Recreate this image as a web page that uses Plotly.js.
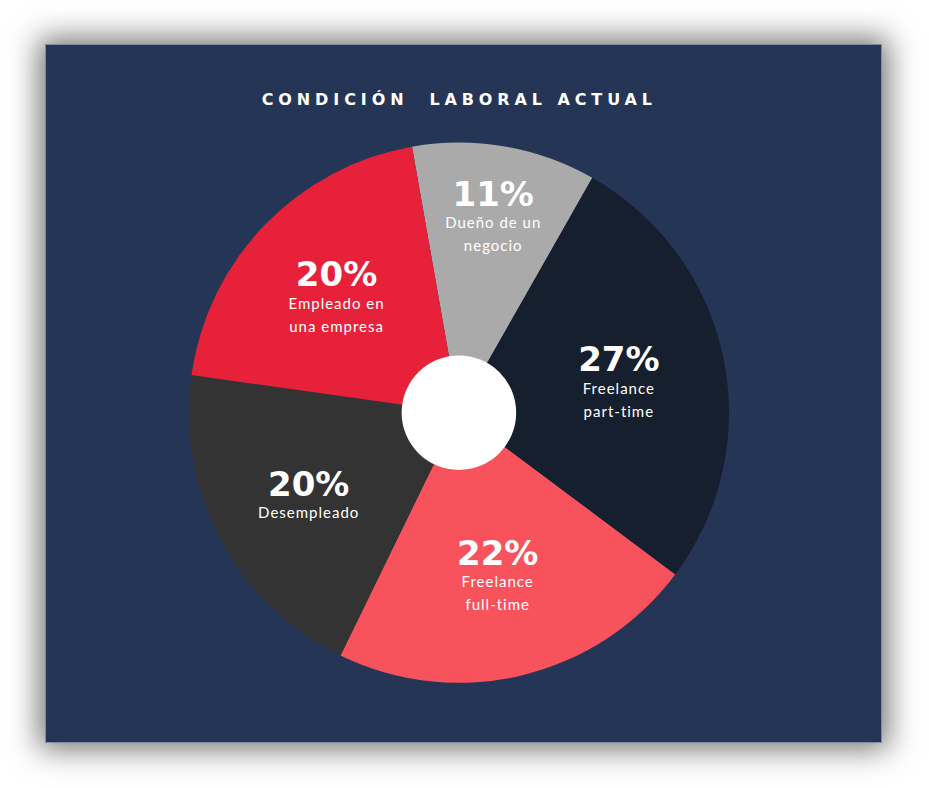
<!DOCTYPE html>
<html>
<head>
<meta charset="utf-8">
<script src="https://cdn.plot.ly/plotly-3.0.1.min.js"></script>
<style>
  html, body { margin: 0; padding: 0; background: #ffffff; width: 929px; height: 788px; overflow: hidden; }
  #panel {
    position: absolute; left: 45px; top: 44px; width: 835px; height: 697px;
    border: 1px solid #7f8ba0;
    box-shadow: 0 0 28px 6px rgba(0,0,0,0.55);
    background: #253556;
  }
  #chart { width: 835px; height: 697px; }
  .gtitle { letter-spacing: 4.9px; }
</style>
</head>
<body>
<div id="panel"><div id="chart"></div></div>
<script>
// Data
var categories = ["Dueño de un<br>negocio", "Freelance<br>part-time", "Freelance<br>full-time", "Desempleado", "Empleado en<br>una empresa"];
var percentages = [11, 27, 22, 20, 20];
var sliceColors = ["#aaaaaa", "#161f2e", "#f8525c", "#333333", "#e8213a"];
var chartTitle = "CONDICIÓN  LABORAL ACTUAL";

var holeFraction = 0.21;
var pieDomain = { x: [0.171, 0.818], y: [0.085, 0.86] };

// white centre disc, sized from the pie domain and hole fraction
function innerDomain(d, f) {
  var cx = (d.x[0] + d.x[1]) / 2, cy = (d.y[0] + d.y[1]) / 2;
  var hx = (d.x[1] - d.x[0]) / 2 * f, hy = (d.y[1] - d.y[0]) / 2 * f;
  return { x: [cx - hx, cx + hx], y: [cy - hy, cy + hy] };
}

var trace = {
  type: "pie",
  values: percentages,
  labels: categories,
  sort: false,
  direction: "clockwise",
  rotation: -10,
  hole: holeFraction,
  marker: { colors: sliceColors, line: { width: 0 } },
  textinfo: "text",
  texttemplate: '<span style="font-family:\'DejaVu Sans\';font-size:34px;font-weight:bold">%{value}%</span><br><span style="font-size:15px;letter-spacing:1px">%{label}</span>',
  textposition: "inside",
  insidetextorientation: "horizontal",
  textfont: { family: "Lato, 'Open Sans', sans-serif", color: "#ffffff", size: 17.5 },
  domain: pieDomain,
  hoverinfo: "none",
  showlegend: false
};

var centre = {
  type: "pie",
  values: [1],
  labels: [""],
  marker: { colors: ["#ffffff"], line: { width: 0 } },
  textinfo: "none",
  domain: innerDomain(pieDomain, holeFraction * 1.01),
  hoverinfo: "none",
  showlegend: false
};

var layout = {
  width: 835, height: 697,
  margin: { l: 0, r: 0, t: 0, b: 0 },
  paper_bgcolor: "#253556",
  plot_bgcolor: "#253556",
  title: {
    text: "<b>" + chartTitle + "</b>",
    x: 0.495, xanchor: "center",
    y: 0.9225, yanchor: "middle",
    font: { family: "'DejaVu Sans', sans-serif", size: 16, color: "#ffffff" }
  },
  showlegend: false
};

Plotly.newPlot("chart", [trace, centre], layout, { displayModeBar: false, staticPlot: true });
</script>
</body>
</html>
